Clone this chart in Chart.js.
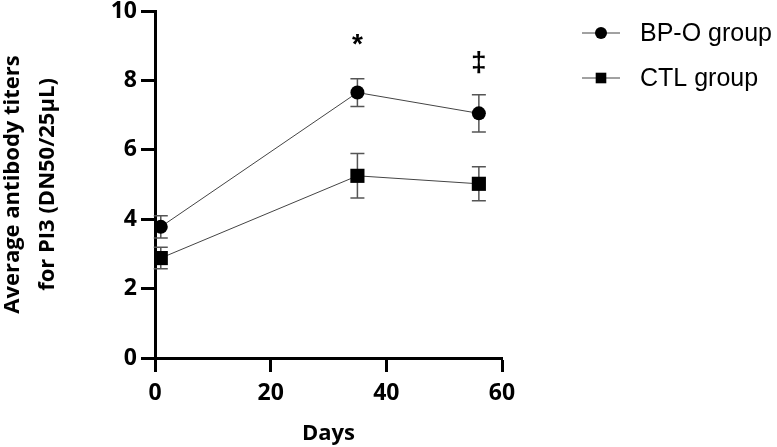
<!DOCTYPE html>
<html>
<head>
<meta charset="utf-8">
<script src="https://cdn.jsdelivr.net/npm/chart.js@4.4.0/dist/chart.umd.min.js"></script>
<style>
  html, body { margin: 0; padding: 0; background: #fff; }
  #wrap { width: 777px; height: 447px; }
</style>
</head>
<body>
<div id="wrap"><canvas id="chart"></canvas></div>
<script>
const days = [1, 35, 56];
const bpoMean = [3.78, 7.65, 7.05];
const bpoErr = [0.32, 0.40, 0.54];
const ctlMean = [2.88, 5.25, 5.02];
const ctlErr = [0.31, 0.64, 0.49];
const markDays = [35, 56];
const markValues = [9.0, 8.5];
const marks = ['*', '\u2021'];
const xTicks = [0, 20, 40, 60];
const yTicks = [0, 2, 4, 6, 8, 10];

const errors = [bpoErr, ctlErr];

// error bars drawn behind the markers
const errorBars = {
  id: 'errorBars',
  beforeDatasetsDraw(chart) {
    const ctx = chart.ctx;
    const xs = chart.scales.x, ys = chart.scales.y;
    ctx.save();
    ctx.strokeStyle = '#555';
    ctx.lineWidth = 1.5;
    chart.data.datasets.forEach((ds, i) => {
      ds.data.forEach((p, j) => {
        const x = xs.getPixelForValue(p.x);
        const top = ys.getPixelForValue(p.y + errors[i][j]);
        const bot = ys.getPixelForValue(p.y - errors[i][j]);
        ctx.beginPath();
        ctx.moveTo(x, top); ctx.lineTo(x, bot);
        ctx.moveTo(x - 7, top); ctx.lineTo(x + 7, top);
        ctx.moveTo(x - 7, bot); ctx.lineTo(x + 7, bot);
        ctx.stroke();
      });
    });
    ctx.restore();
  }
};

// significance marks and legend
const extras = {
  id: 'extras',
  afterDraw(chart) {
    const ctx = chart.ctx;
    const xs = chart.scales.x, ys = chart.scales.y;
    ctx.save();
    ctx.fillStyle = '#000';
    ctx.textAlign = 'center';
    ctx.textBaseline = 'middle';
    ctx.font = 'bold 28px "Liberation Sans", Arial, sans-serif';
    marks.forEach((m, i) => {
      ctx.fillText(m, xs.getPixelForValue(markDays[i]), ys.getPixelForValue(markValues[i]));
    });

    const lx = 582, ly = 33, gap = 45;
    chart.data.datasets.forEach((ds, i) => {
      const y = ly + i * gap;
      ctx.strokeStyle = '#444';
      ctx.lineWidth = 1;
      ctx.beginPath();
      ctx.moveTo(lx, y); ctx.lineTo(lx + 38, y);
      ctx.stroke();
      ctx.fillStyle = '#000';
      Chart.helpers.drawPoint(ctx, {
        pointStyle: ds.pointStyle,
        radius: ds.pointStyle === 'rect' ? 7.5 : 6,
        borderWidth: 0
      }, lx + 19, y);
      ctx.textAlign = 'left';
      ctx.font = '25px "Liberation Sans", Arial, sans-serif';
      ctx.fillText(ds.label, lx + 58, y + 1);
    });
    ctx.restore();
  }
};

const xTickFont = { family: '"Open Sans", sans-serif', size: 23, weight: 'bold', lineHeight: 1.2 };
const yTickFont = { family: '"Open Sans", sans-serif', size: 23, weight: 'bold', lineHeight: 0.6 };
const xTitleFont = { family: '"Open Sans", sans-serif', size: 22, weight: 'bold', lineHeight: 1.2 };
const yTitleFont = { family: '"Open Sans", sans-serif', size: 22, weight: 'bold', lineHeight: 1.6 };

new Chart(document.getElementById('chart'), {
  type: 'line',
  data: {
    datasets: [
      {
        label: 'BP-O group',
        data: days.map((d, i) => ({ x: d, y: bpoMean[i] })),
        pointStyle: 'circle',
        pointRadius: 7,
        borderColor: '#444',
        borderWidth: 1,
        pointBackgroundColor: '#000',
        pointBorderWidth: 0
      },
      {
        label: 'CTL group',
        data: days.map((d, i) => ({ x: d, y: ctlMean[i] })),
        pointStyle: 'rect',
        pointRadius: 10,
        borderColor: '#444',
        borderWidth: 1,
        pointBackgroundColor: '#000',
        pointBorderWidth: 0
      }
    ]
  },
  options: {
    responsive: true,
    maintainAspectRatio: false,
    animation: false,
    layout: { padding: { top: 11, right: 275, left: 0, bottom: 0 } },
    plugins: { legend: { display: false }, tooltip: { enabled: false } },
    scales: {
      x: {
        type: 'linear',
        min: 0, max: 60,
        afterBuildTicks: s => { s.ticks = xTicks.map(v => ({ value: v })); },
        afterFit: s => { s.height = 89; },
        grid: { drawOnChartArea: false, tickLength: 14, tickWidth: 3, tickColor: '#000' },
        border: { width: 3, color: '#000' },
        ticks: { color: '#000', font: xTickFont, padding: 8, maxRotation: 0 },
        title: { display: true, text: 'Days', color: '#000', font: xTitleFont, padding: { top: 0, bottom: 0 } }
      },
      y: {
        min: 0, max: 10,
        afterBuildTicks: s => { s.ticks = yTicks.map(v => ({ value: v })); },
        afterFit: s => { s.width = 155; },
        grid: { drawOnChartArea: false, tickLength: 14, tickWidth: 3, tickColor: '#000' },
        border: { width: 3, color: '#000' },
        ticks: { color: '#000', font: yTickFont, padding: 4 },
        title: {
          display: true,
          text: ['Average antibody titers', 'for PI3 (DN50/25\u03bcL)'],
          color: '#000', font: yTitleFont, padding: { top: -5, bottom: 0 }
        }
      }
    }
  },
  plugins: [errorBars, extras]
});
</script>
</body>
</html>
